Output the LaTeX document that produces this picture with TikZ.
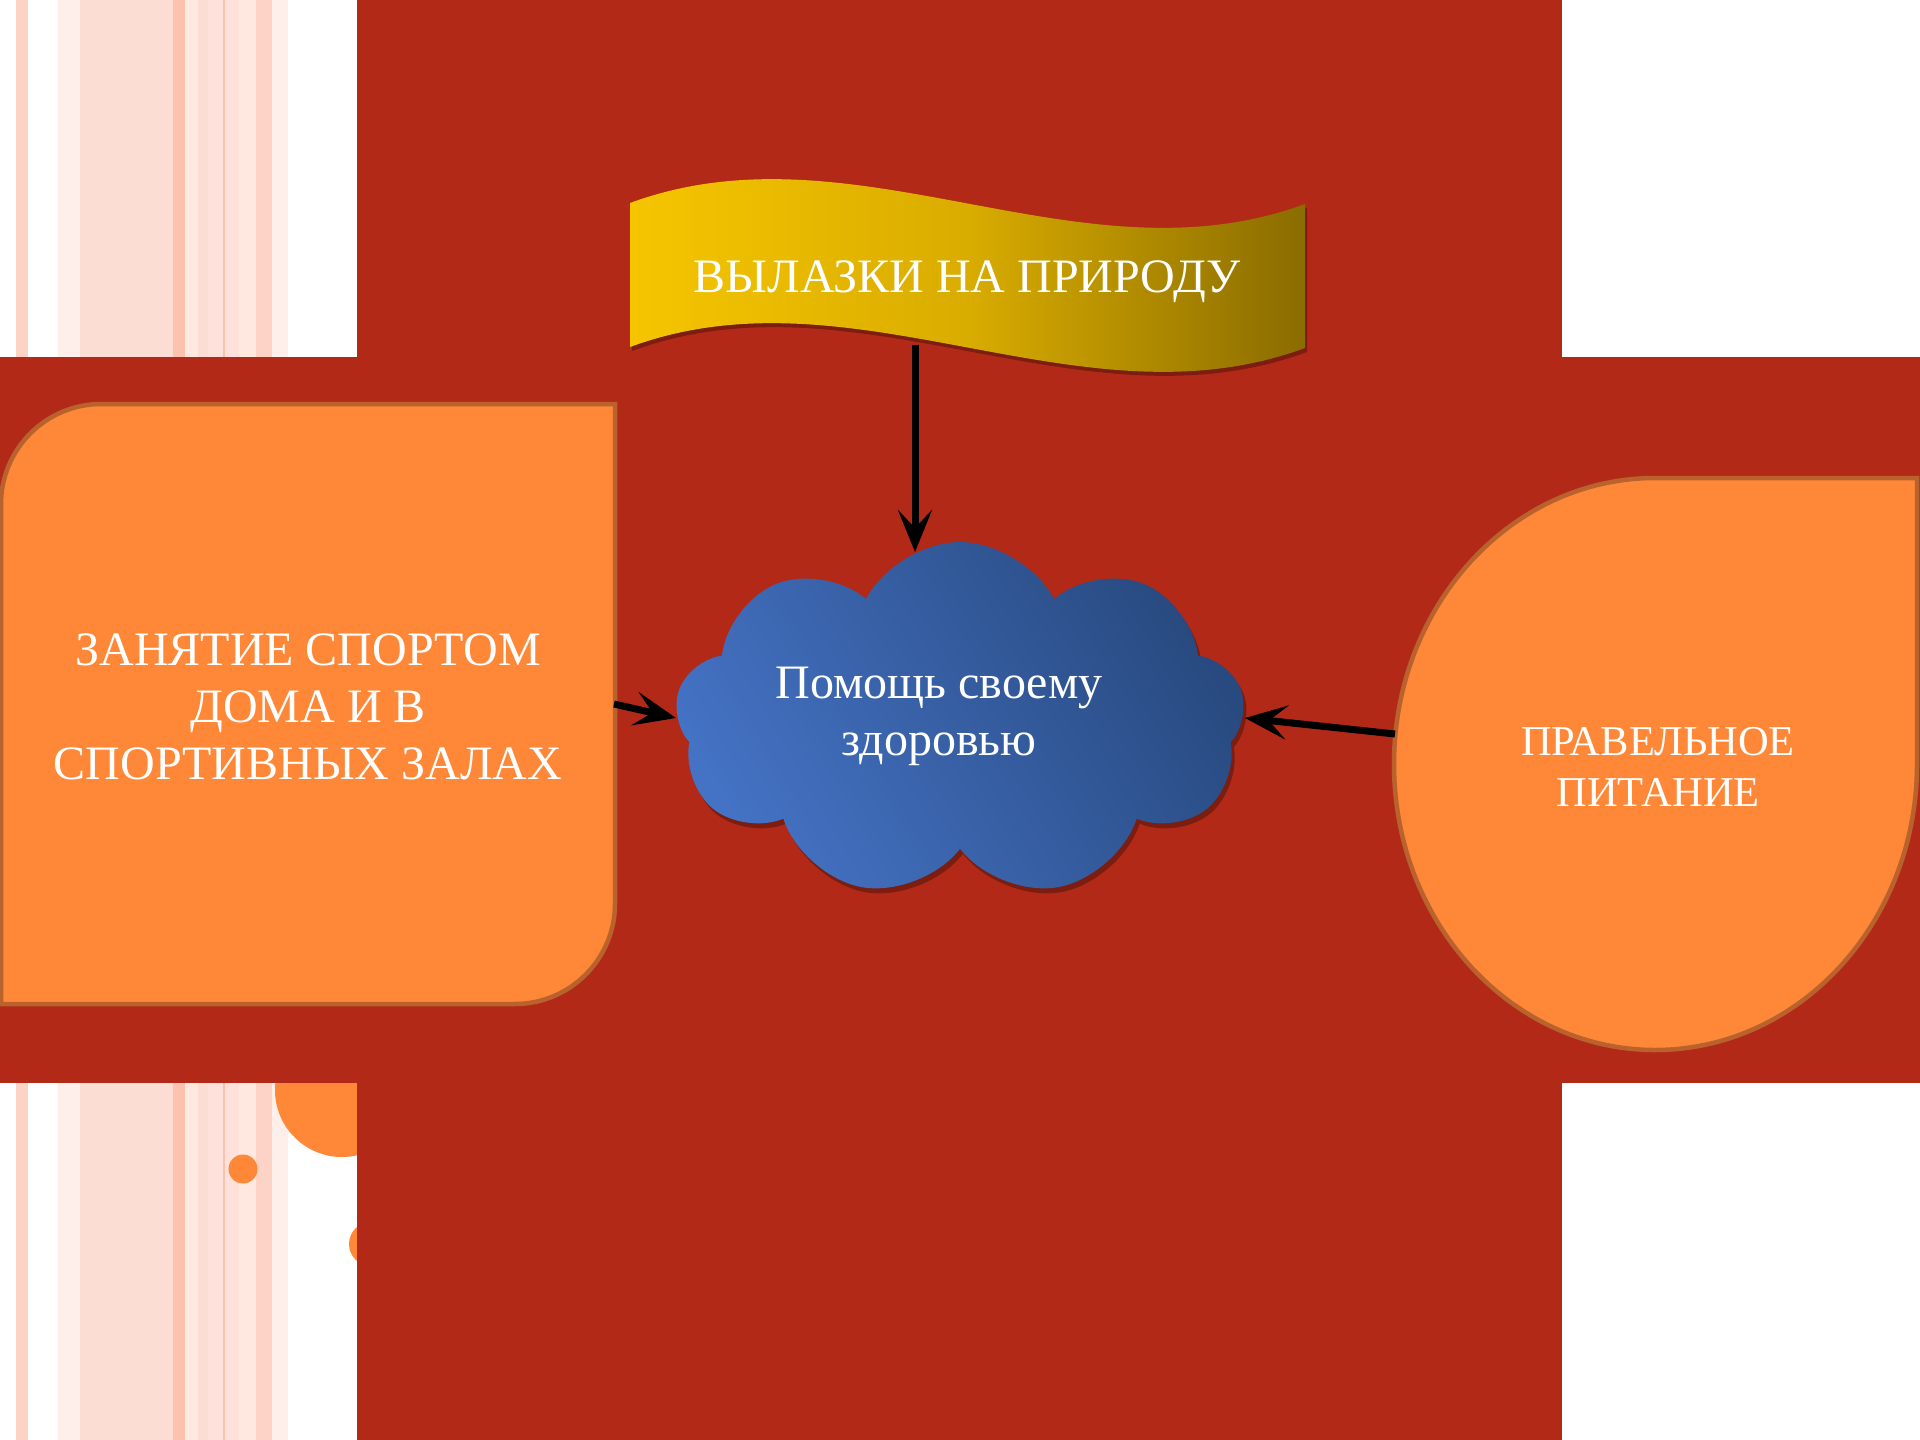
\documentclass[tikz,border=0pt]{standalone}
\usepackage{fontspec}
\setmainfont{Liberation Serif}
\usetikzlibrary{shapes.symbols, arrows.meta}
\definecolor{redbg}{HTML}{B22A17}
\definecolor{orfill}{HTML}{FE8838}
\definecolor{orline}{HTML}{B9622D}
\definecolor{stA}{HTML}{FCD3C5}
\definecolor{stB}{HTML}{FFEFEB}
\definecolor{stC}{HTML}{FCDDD4}
\definecolor{stD}{HTML}{FCC2AE}
\definecolor{stE}{HTML}{FFE8E0}
\definecolor{stF}{HTML}{FDE1DA}
\definecolor{bnL}{HTML}{F6C500}
\definecolor{bnM}{HTML}{D9AC00}
\definecolor{bnR}{HTML}{8A6C00}
\definecolor{clL}{HTML}{4472C4}
\definecolor{clR}{HTML}{284A80}
\begin{document}
\begin{tikzpicture}[x=1pt, y=-1pt,
  orbox/.style={fill=orfill, draw=orline, line width=4.5pt},
  txt/.style={text=white, align=center, inner sep=0pt},
  conn/.style={line width=7pt, -{Stealth[length=42pt, width=34pt, inset=18pt]}},
  cloudshape/.style={cloud, cloud puffs=9, cloud puff arc=125, aspect=1.6, minimum width=570pt, minimum height=356pt, inner sep=0pt},
  shadowed/.style={preaction={fill=black, opacity=0.3, transform canvas={xshift=2pt, yshift=-4pt}}}
]
\useasboundingbox (0,0) rectangle (1920,1440);
\fill[white] (0,0) rectangle (1920,1440);
% stripes
\fill[stA] (16,0) rectangle (28,1440);
\fill[stB] (58,0) rectangle (80,1440);
\fill[stC] (80,0) rectangle (173,1440);
\fill[stD] (173,0) rectangle (185,1440);
\fill[stE] (185,0) rectangle (198,1440);
\fill[stC] (198,0) rectangle (208,1440);
\fill[stF] (208,0) rectangle (223,1440);
\fill[stD] (223,0) rectangle (225,1440);
\fill[stF] (225,0) rectangle (239,1440);
\fill[stE] (239,0) rectangle (256,1440);
\fill[stA] (256,0) rectangle (272,1440);
\fill[stB] (272,0) rectangle (288,1440);
% circles
\fill[orfill] (342,1090) circle[radius=67];
\fill[orfill] (243,1169) circle[radius=14.5];
\fill[orfill] (371,1244) circle[radius=22];
% red cross
\fill[redbg] (357,0) rectangle (1562,1440);
\fill[redbg] (0,357) rectangle (1920,1083);
% left box
\path[orbox] (1,504) .. controls (1,449) and (46,404) .. (101,404) -- (615,404) -- (615,904)
  .. controls (615,959) and (570,1004) .. (515,1004) -- (1,1004) -- cycle;
\node[txt, font=\fontsize{48}{57}\selectfont] (lefttext) at (308,707) {ЗАНЯТИЕ СПОРТОМ\\ДОМА И В\\СПОРТИВНЫХ ЗАЛАХ};
% right teardrop
\path[orbox] (1394,764) .. controls (1394,606) and (1511,478) .. (1655,478) -- (1917,478) -- (1917,764)
  .. controls (1917,922) and (1800,1050) .. (1655,1050) .. controls (1511,1050) and (1394,922) .. (1394,764) -- cycle;
\node[txt, font=\fontsize{42.5}{51}\selectfont] (righttext) at (1658,767) {ПРАВЕЛЬНОЕ\\ПИТАНИЕ};
% banner
\path[shadowed, left color=bnL, right color=bnR, middle color=bnM]
  (630,203) .. controls (855,120) and (1080,287) .. (1305,204) -- (1305,348)
  .. controls (1080,431) and (855,264) .. (630,347) -- cycle;
\node[txt, font=\fontsize{48}{57}\selectfont] (bannertext) at (967,282) {ВЫЛАЗКИ НА ПРИРОДУ};
% cloud
\node[cloudshape, fill=black, opacity=0.3] (cloudshadow) at (963,725) {};
\node[cloudshape, left color=clL, right color=clR, shading angle=120] (cloud) at (960,720) {};
\node[txt, font=\fontsize{48}{57}\selectfont] (cloudtext) at (939,716) {Помощь своему\\здоровью};
% connectors
\coordinate (topstart) at (915,345);
\coordinate (toptip) at (915,552);
\coordinate (lstart) at (614,704);
\coordinate (ltip) at (676,718);
\coordinate (rstart) at (1395,734);
\coordinate (rtip) at (1245,718);
\draw[conn] (topstart) -- (toptip);
\draw[conn] (lstart) -- (ltip);
\draw[conn] (rstart) -- (rtip);
\end{tikzpicture}
\end{document}
